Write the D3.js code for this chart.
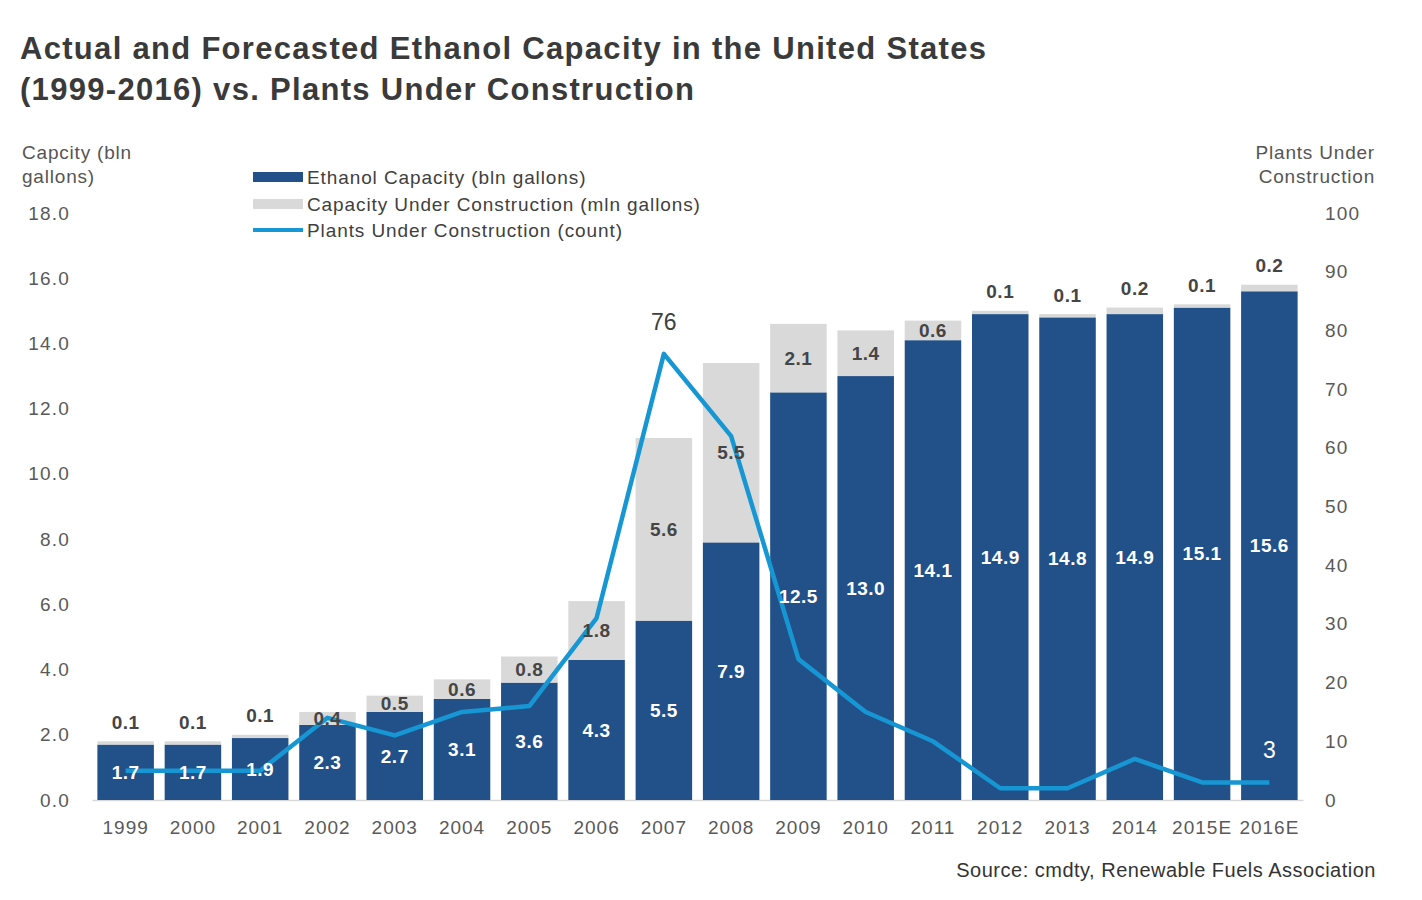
<!DOCTYPE html>
<html>
<head>
<meta charset="utf-8">
<script src="https://cdn.jsdelivr.net/npm/d3@7"></script>
<style>
  body { margin: 0; background: #fff; }
  text { font-family: "Liberation Sans", Arial, sans-serif; }
</style>
</head>
<body>
<div id="chart"></div>
<script>
// data
const years = ["1999", "2000", "2001", "2002", "2003", "2004", "2005", "2006", "2007",
  "2008", "2009", "2010", "2011", "2012", "2013", "2014", "2015E", "2016E"];
const capacity = [1.7, 1.7, 1.9, 2.3, 2.7, 3.1, 3.6, 4.3, 5.5, 7.9, 12.5, 13.0, 14.1, 14.9, 14.8, 14.9, 15.1, 15.6];
const underConstruction = [0.1, 0.1, 0.1, 0.4, 0.5, 0.6, 0.8, 1.8, 5.6, 5.5, 2.1, 1.4, 0.6, 0.1, 0.1, 0.2, 0.1, 0.2];
const plants = [5, 5, 5, 14, 11, 15, 16, 31, 76, 62, 24, 15, 10, 2, 2, 7, 3, 3];
const leftTicks = [0, 2, 4, 6, 8, 10, 12, 14, 16, 18];
const rightTicks = [0, 10, 20, 30, 40, 50, 60, 70, 80, 90, 100];
const legendItems = ["Ethanol Capacity (bln gallons)", "Capacity Under Construction (mln gallons)", "Plants Under Construction (count)"];

const W = 1422, H = 900;
const plot = { left: 92, right: 1303, top: 213, bottom: 800 };
const darkBlue = "#22518a", lightGray = "#d9d9d9", lineBlue = "#1796d4";
const axisFont = "Liberation Sans, Arial, sans-serif";

const svg = d3.select("#chart").append("svg")
  .attr("width", W)
  .attr("height", H);

// title
const title = svg.append("g")
  .attr("font-size", 31).attr("font-weight", "bold").attr("fill", "#3a3a3a")
  .attr("letter-spacing", 1.3);
title.append("text").attr("x", 20).attr("y", 59)
  .text("Actual and Forecasted Ethanol Capacity in the United States");
title.append("text").attr("x", 20).attr("y", 100)
  .text("(1999-2016) vs. Plants Under Construction");

const x = d3.scaleBand()
  .domain(years)
  .range([plot.left, plot.right])
  .paddingInner(0.16)
  .paddingOuter(0.08);

const y = d3.scaleLinear().domain([0, 18]).range([plot.bottom, plot.top]);
const y2 = d3.scaleLinear().domain([0, 100]).range([plot.bottom, plot.top]);

// axis titles
const axisTitles = svg.append("g").attr("font-size", 19).attr("fill", "#555").attr("letter-spacing", 0.8);
axisTitles.append("text").attr("x", 22).attr("y", 159).text("Capcity (bln");
axisTitles.append("text").attr("x", 22).attr("y", 183).text("gallons)");
axisTitles.append("text").attr("x", 1375).attr("y", 159).attr("text-anchor", "end").text("Plants Under");
axisTitles.append("text").attr("x", 1375).attr("y", 183).attr("text-anchor", "end").text("Construction");

function styleTicks(g) {
  g.select(".domain").remove();
  g.selectAll("text")
    .attr("font-size", 19)
    .attr("fill", "#595959")
    .attr("font-family", axisFont)
    .attr("letter-spacing", 1.2);
}

// left axis
svg.append("g")
  .attr("transform", `translate(${plot.left - 22},0)`)
  .call(d3.axisLeft(y).tickValues(leftTicks).tickFormat(d3.format(".1f")).tickSize(0).tickPadding(0))
  .call(styleTicks);

// right axis
svg.append("g")
  .attr("transform", `translate(${plot.right + 22},0)`)
  .call(d3.axisRight(y2).tickValues(rightTicks).tickSize(0).tickPadding(0))
  .call(styleTicks);

// bottom axis
const bottomAxis = svg.append("g")
  .attr("transform", `translate(0,${plot.bottom})`)
  .call(d3.axisBottom(x).tickSize(0).tickPadding(21));
bottomAxis.select(".domain").attr("stroke", "#d9d9d9").attr("stroke-width", 1.5);
bottomAxis.selectAll("text")
  .attr("font-size", 19).attr("fill", "#595959")
  .attr("font-family", axisFont).attr("letter-spacing", 1);

// stacked bars
const bars = svg.append("g");
years.forEach((yr, i) => {
  bars.append("rect")
    .attr("x", x(yr)).attr("width", x.bandwidth())
    .attr("y", y(capacity[i])).attr("height", y(0) - y(capacity[i]))
    .attr("fill", darkBlue);
  bars.append("rect")
    .attr("x", x(yr)).attr("width", x.bandwidth())
    .attr("y", y(capacity[i] + underConstruction[i]))
    .attr("height", y(capacity[i]) - y(capacity[i] + underConstruction[i]))
    .attr("fill", lightGray);
});

// plants line
const line = d3.line()
  .x((d, i) => x(years[i]) + x.bandwidth() / 2)
  .y(d => y2(d));
svg.append("path")
  .datum(plants)
  .attr("d", line)
  .attr("fill", "none")
  .attr("stroke", lineBlue)
  .attr("stroke-width", 4.5)
  .attr("stroke-linejoin", "round");

// bar labels
const labels = svg.append("g")
  .attr("font-size", 19).attr("font-weight", "bold")
  .attr("text-anchor", "middle").attr("letter-spacing", 0.5);
years.forEach((yr, i) => {
  const cx = x(yr) + x.bandwidth() / 2;
  labels.append("text")
    .attr("x", cx)
    .attr("y", (y(0) + y(capacity[i])) / 2)
    .attr("dy", "0.35em")
    .attr("fill", "#fff")
    .text(d3.format(".1f")(capacity[i]));
  const top = y(capacity[i] + underConstruction[i]);
  const mid = (top + y(capacity[i])) / 2;
  labels.append("text")
    .attr("x", cx)
    .attr("y", underConstruction[i] < 0.3 ? top - 19 : mid)
    .attr("dy", "0.35em")
    .attr("fill", "#454545")
    .text(d3.format(".1f")(underConstruction[i]));
});

// line labels (peak and last)
const peak = plants.indexOf(d3.max(plants));
svg.append("text")
  .attr("x", x(years[peak]) + x.bandwidth() / 2)
  .attr("y", y2(plants[peak]) - 32)
  .attr("dy", "0.35em")
  .attr("text-anchor", "middle")
  .attr("font-size", 23).attr("fill", "#404040")
  .text(plants[peak]);
const last = plants.length - 1;
svg.append("text")
  .attr("x", x(years[last]) + x.bandwidth() / 2)
  .attr("y", y2(plants[last]) - 32)
  .attr("dy", "0.35em")
  .attr("text-anchor", "middle")
  .attr("font-size", 23).attr("fill", "#fff")
  .text(plants[last]);

// legend
const legend = svg.append("g").attr("transform", "translate(253,0)");
const legendY = [177, 204, 230];
legendItems.forEach((name, i) => {
  if (i < 2) {
    legend.append("rect")
      .attr("x", 0).attr("y", legendY[i] - 5).attr("width", 50).attr("height", 10)
      .attr("fill", i === 0 ? darkBlue : lightGray);
  } else {
    legend.append("line")
      .attr("x1", 0).attr("x2", 50).attr("y1", legendY[i]).attr("y2", legendY[i])
      .attr("stroke", lineBlue).attr("stroke-width", 4);
  }
  legend.append("text")
    .attr("x", 54).attr("y", legendY[i]).attr("dy", "0.35em")
    .attr("font-size", 19).attr("fill", "#404040").attr("letter-spacing", 0.9)
    .text(name);
});

// source
svg.append("text")
  .attr("x", 1376).attr("y", 877)
  .attr("text-anchor", "end")
  .attr("font-size", 20).attr("fill", "#333").attr("letter-spacing", 0.5)
  .text("Source: cmdty, Renewable Fuels Association");
</script>
</body>
</html>
